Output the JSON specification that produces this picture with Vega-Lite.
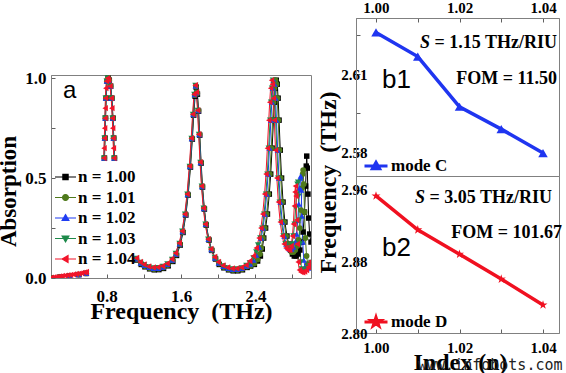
{
"$schema": "https://vega.github.io/schema/vega-lite/v6.json",
"background": "white",
"padding": {"left": -4, "top": 0, "right": 0, "bottom": 0},
"config": {
  "view": {"stroke": "#808080", "strokeWidth": 1},
  "axis": {"domainColor": "#808080", "tickColor": "#606060", "labelFont": "Liberation Serif", "labelFontWeight": "bold", "labelColor": "#000000", "titleFont": "Liberation Serif", "titleFontWeight": "bold", "titleColor": "#000000", "grid": false, "tickSize": -4, "labelFlush": false, "labelOverlap": false}
},
"title": {"text": "www.infobots.com", "orient": "bottom", "anchor": "end", "font": "DejaVu Sans Mono", "fontSize": 15, "fontWeight": "normal", "color": "#222222", "offset": -17},
"datasets": {
"modeC": [
{"mode": "mode C", "n": 1.00, "f": 2.6260},
{"mode": "mode C", "n": 1.01, "f": 2.6167},
{"mode": "mode C", "n": 1.02, "f": 2.5974},
{"mode": "mode C", "n": 1.03, "f": 2.5888},
{"mode": "mode C", "n": 1.04, "f": 2.5796}
],
"modeD": [
{"mode": "mode D", "n": 1.00, "f": 2.9533},
{"mode": "mode D", "n": 1.01, "f": 2.9154},
{"mode": "mode D", "n": 1.02, "f": 2.8882},
{"mode": "mode D", "n": 1.03, "f": 2.8603},
{"mode": "mode D", "n": 1.04, "f": 2.8313}
],
"spectra": [
{"n":"1.00","s":"A","f":0.2,"a":0.001},{"n":"1.00","s":"A","f":0.3,"a":0.006},{"n":"1.00","s":"A","f":0.4,"a":0.011},{"n":"1.00","s":"A","f":0.5,"a":0.017},{"n":"1.00","s":"A","f":0.58,"a":0.023},
{"n":"1.00","s":"B","f":0.776,"a":0.6},{"n":"1.00","s":"B","f":0.782,"a":0.7},{"n":"1.00","s":"B","f":0.788,"a":0.8},{"n":"1.00","s":"B","f":0.794,"a":0.9},{"n":"1.00","s":"B","f":0.805,"a":0.985},{"n":"1.00","s":"B","f":0.816,"a":1.0},{"n":"1.00","s":"B","f":0.828,"a":0.99},{"n":"1.00","s":"B","f":0.843,"a":0.96},{"n":"1.00","s":"B","f":0.856,"a":0.9},{"n":"1.00","s":"B","f":0.868,"a":0.8},{"n":"1.00","s":"B","f":0.876,"a":0.7},{"n":"1.00","s":"B","f":0.884,"a":0.6},
{"n":"1.00","s":"C","f":1.12,"a":0.09},{"n":"1.00","s":"C","f":1.172,"a":0.068},{"n":"1.00","s":"C","f":1.212,"a":0.056},{"n":"1.00","s":"C","f":1.262,"a":0.046},{"n":"1.00","s":"C","f":1.312,"a":0.041},{"n":"1.00","s":"C","f":1.362,"a":0.042},{"n":"1.00","s":"C","f":1.412,"a":0.048},{"n":"1.00","s":"C","f":1.462,"a":0.061},{"n":"1.00","s":"C","f":1.512,"a":0.083},{"n":"1.00","s":"C","f":1.552,"a":0.113},{"n":"1.00","s":"C","f":1.592,"a":0.165},{"n":"1.00","s":"C","f":1.622,"a":0.228},{"n":"1.00","s":"C","f":1.652,"a":0.315},{"n":"1.00","s":"C","f":1.677,"a":0.415},{"n":"1.00","s":"C","f":1.702,"a":0.555},{"n":"1.00","s":"C","f":1.722,"a":0.695},{"n":"1.00","s":"C","f":1.737,"a":0.815},{"n":"1.00","s":"C","f":1.752,"a":0.91},{"n":"1.00","s":"C","f":1.764,"a":0.955},{"n":"1.00","s":"C","f":1.777,"a":0.92},{"n":"1.00","s":"C","f":1.79,"a":0.835},{"n":"1.00","s":"C","f":1.802,"a":0.715},{"n":"1.00","s":"C","f":1.817,"a":0.575},{"n":"1.00","s":"C","f":1.832,"a":0.455},{"n":"1.00","s":"C","f":1.852,"a":0.345},{"n":"1.00","s":"C","f":1.872,"a":0.265},{"n":"1.00","s":"C","f":1.902,"a":0.19},{"n":"1.00","s":"C","f":1.932,"a":0.138},{"n":"1.00","s":"C","f":1.972,"a":0.095},{"n":"1.00","s":"C","f":2.012,"a":0.068},{"n":"1.00","s":"C","f":2.062,"a":0.051},{"n":"1.00","s":"C","f":2.112,"a":0.041},{"n":"1.00","s":"C","f":2.162,"a":0.036},{"n":"1.00","s":"C","f":2.212,"a":0.036},{"n":"1.00","s":"C","f":2.262,"a":0.041},{"n":"1.00","s":"C","f":2.312,"a":0.053},
{"n":"1.00","s":"C","f":2.35,"a":0.06},{"n":"1.00","s":"C","f":2.39,"a":0.068},{"n":"1.00","s":"C","f":2.425,"a":0.085},{"n":"1.00","s":"C","f":2.455,"a":0.11},{"n":"1.00","s":"C","f":2.475,"a":0.145},{"n":"1.00","s":"C","f":2.491,"a":0.2},{"n":"1.00","s":"C","f":2.511,"a":0.25},{"n":"1.00","s":"C","f":2.531,"a":0.32},{"n":"1.00","s":"C","f":2.551,"a":0.42},{"n":"1.00","s":"C","f":2.566,"a":0.52},{"n":"1.00","s":"C","f":2.581,"a":0.65},{"n":"1.00","s":"C","f":2.596,"a":0.79},{"n":"1.00","s":"C","f":2.606,"a":0.88},{"n":"1.00","s":"C","f":2.616,"a":0.95},{"n":"1.00","s":"C","f":2.626,"a":0.99},{"n":"1.00","s":"C","f":2.636,"a":0.97},{"n":"1.00","s":"C","f":2.646,"a":0.9},{"n":"1.00","s":"C","f":2.656,"a":0.79},{"n":"1.00","s":"C","f":2.669,"a":0.64},{"n":"1.00","s":"C","f":2.683,"a":0.5},{"n":"1.00","s":"C","f":2.699,"a":0.38},{"n":"1.00","s":"C","f":2.719,"a":0.28},{"n":"1.00","s":"C","f":2.741,"a":0.21},{"n":"1.00","s":"C","f":2.761,"a":0.17},{"n":"1.00","s":"C","f":2.78,"a":0.14},{"n":"1.00","s":"C","f":2.8,"a":0.12},{"n":"1.00","s":"C","f":2.82,"a":0.11},{"n":"1.00","s":"C","f":2.84,"a":0.11},{"n":"1.00","s":"C","f":2.86,"a":0.12},{"n":"1.00","s":"C","f":2.88,"a":0.14},{"n":"1.00","s":"C","f":2.9,"a":0.18},{"n":"1.00","s":"C","f":2.915,"a":0.23},{"n":"1.00","s":"C","f":2.93,"a":0.33},{"n":"1.00","s":"C","f":2.942,"a":0.46},{"n":"1.00","s":"C","f":2.949,"a":0.56},{"n":"1.00","s":"C","f":2.954,"a":0.61},{"n":"1.00","s":"C","f":2.96,"a":0.55},{"n":"1.00","s":"C","f":2.967,"a":0.42},{"n":"1.00","s":"C","f":2.975,"a":0.3},{"n":"1.00","s":"C","f":2.985,"a":0.22},{"n":"1.00","s":"C","f":3.0,"a":0.18},

{"n":"1.01","s":"A","f":0.2,"a":0.001},{"n":"1.01","s":"A","f":0.3,"a":0.006},{"n":"1.01","s":"A","f":0.4,"a":0.011},{"n":"1.01","s":"A","f":0.5,"a":0.017},{"n":"1.01","s":"A","f":0.58,"a":0.023},
{"n":"1.01","s":"B","f":0.774,"a":0.6},{"n":"1.01","s":"B","f":0.78,"a":0.7},{"n":"1.01","s":"B","f":0.786,"a":0.8},{"n":"1.01","s":"B","f":0.792,"a":0.9},{"n":"1.01","s":"B","f":0.803,"a":0.985},{"n":"1.01","s":"B","f":0.814,"a":1.0},{"n":"1.01","s":"B","f":0.826,"a":0.99},{"n":"1.01","s":"B","f":0.841,"a":0.96},{"n":"1.01","s":"B","f":0.854,"a":0.9},{"n":"1.01","s":"B","f":0.866,"a":0.8},{"n":"1.01","s":"B","f":0.874,"a":0.7},{"n":"1.01","s":"B","f":0.882,"a":0.6},
{"n":"1.01","s":"C","f":1.12,"a":0.093},{"n":"1.01","s":"C","f":1.169,"a":0.072},{"n":"1.01","s":"C","f":1.209,"a":0.06},{"n":"1.01","s":"C","f":1.259,"a":0.05},{"n":"1.01","s":"C","f":1.309,"a":0.045},{"n":"1.01","s":"C","f":1.359,"a":0.046},{"n":"1.01","s":"C","f":1.409,"a":0.052},{"n":"1.01","s":"C","f":1.459,"a":0.065},{"n":"1.01","s":"C","f":1.509,"a":0.087},{"n":"1.01","s":"C","f":1.549,"a":0.117},{"n":"1.01","s":"C","f":1.589,"a":0.168},{"n":"1.01","s":"C","f":1.619,"a":0.23},{"n":"1.01","s":"C","f":1.649,"a":0.317},{"n":"1.01","s":"C","f":1.674,"a":0.417},{"n":"1.01","s":"C","f":1.699,"a":0.557},{"n":"1.01","s":"C","f":1.719,"a":0.697},{"n":"1.01","s":"C","f":1.734,"a":0.817},{"n":"1.01","s":"C","f":1.749,"a":0.915},{"n":"1.01","s":"C","f":1.761,"a":0.958},{"n":"1.01","s":"C","f":1.774,"a":0.925},{"n":"1.01","s":"C","f":1.787,"a":0.837},{"n":"1.01","s":"C","f":1.799,"a":0.717},{"n":"1.01","s":"C","f":1.814,"a":0.577},{"n":"1.01","s":"C","f":1.829,"a":0.457},{"n":"1.01","s":"C","f":1.849,"a":0.347},{"n":"1.01","s":"C","f":1.869,"a":0.267},{"n":"1.01","s":"C","f":1.899,"a":0.192},{"n":"1.01","s":"C","f":1.929,"a":0.14},{"n":"1.01","s":"C","f":1.969,"a":0.098},{"n":"1.01","s":"C","f":2.009,"a":0.072},{"n":"1.01","s":"C","f":2.059,"a":0.055},{"n":"1.01","s":"C","f":2.109,"a":0.045},{"n":"1.01","s":"C","f":2.159,"a":0.04},{"n":"1.01","s":"C","f":2.209,"a":0.04},{"n":"1.01","s":"C","f":2.259,"a":0.045},{"n":"1.01","s":"C","f":2.309,"a":0.057},
{"n":"1.01","s":"C","f":2.35,"a":0.062},{"n":"1.01","s":"C","f":2.39,"a":0.072},{"n":"1.01","s":"C","f":2.425,"a":0.092},{"n":"1.01","s":"C","f":2.45,"a":0.12},{"n":"1.01","s":"C","f":2.465,"a":0.15},{"n":"1.01","s":"C","f":2.482,"a":0.2},{"n":"1.01","s":"C","f":2.502,"a":0.25},{"n":"1.01","s":"C","f":2.522,"a":0.32},{"n":"1.01","s":"C","f":2.542,"a":0.42},{"n":"1.01","s":"C","f":2.557,"a":0.52},{"n":"1.01","s":"C","f":2.572,"a":0.65},{"n":"1.01","s":"C","f":2.587,"a":0.79},{"n":"1.01","s":"C","f":2.597,"a":0.88},{"n":"1.01","s":"C","f":2.607,"a":0.95},{"n":"1.01","s":"C","f":2.617,"a":0.99},{"n":"1.01","s":"C","f":2.627,"a":0.97},{"n":"1.01","s":"C","f":2.637,"a":0.9},{"n":"1.01","s":"C","f":2.647,"a":0.79},{"n":"1.01","s":"C","f":2.66,"a":0.64},{"n":"1.01","s":"C","f":2.674,"a":0.5},{"n":"1.01","s":"C","f":2.69,"a":0.38},{"n":"1.01","s":"C","f":2.71,"a":0.28},{"n":"1.01","s":"C","f":2.732,"a":0.21},{"n":"1.01","s":"C","f":2.752,"a":0.17},{"n":"1.01","s":"C","f":2.77,"a":0.15},{"n":"1.01","s":"C","f":2.79,"a":0.13},{"n":"1.01","s":"C","f":2.81,"a":0.13},{"n":"1.01","s":"C","f":2.83,"a":0.14},{"n":"1.01","s":"C","f":2.85,"a":0.16},{"n":"1.01","s":"C","f":2.865,"a":0.19},{"n":"1.01","s":"C","f":2.88,"a":0.25},{"n":"1.01","s":"C","f":2.893,"a":0.34},{"n":"1.01","s":"C","f":2.903,"a":0.45},{"n":"1.01","s":"C","f":2.91,"a":0.52},{"n":"1.01","s":"C","f":2.916,"a":0.54},{"n":"1.01","s":"C","f":2.922,"a":0.47},{"n":"1.01","s":"C","f":2.93,"a":0.33},{"n":"1.01","s":"C","f":2.94,"a":0.2},{"n":"1.01","s":"C","f":2.952,"a":0.11},{"n":"1.01","s":"C","f":2.965,"a":0.07},{"n":"1.01","s":"C","f":2.98,"a":0.055},{"n":"1.01","s":"C","f":3.0,"a":0.06},

{"n":"1.02","s":"A","f":0.2,"a":0.001},{"n":"1.02","s":"A","f":0.3,"a":0.006},{"n":"1.02","s":"A","f":0.4,"a":0.011},{"n":"1.02","s":"A","f":0.5,"a":0.017},{"n":"1.02","s":"A","f":0.58,"a":0.023},
{"n":"1.02","s":"B","f":0.772,"a":0.6},{"n":"1.02","s":"B","f":0.778,"a":0.7},{"n":"1.02","s":"B","f":0.784,"a":0.8},{"n":"1.02","s":"B","f":0.79,"a":0.9},{"n":"1.02","s":"B","f":0.801,"a":0.985},{"n":"1.02","s":"B","f":0.812,"a":1.0},{"n":"1.02","s":"B","f":0.824,"a":0.99},{"n":"1.02","s":"B","f":0.839,"a":0.96},{"n":"1.02","s":"B","f":0.852,"a":0.9},{"n":"1.02","s":"B","f":0.864,"a":0.8},{"n":"1.02","s":"B","f":0.872,"a":0.7},{"n":"1.02","s":"B","f":0.88,"a":0.6},
{"n":"1.02","s":"C","f":1.12,"a":0.096},{"n":"1.02","s":"C","f":1.166,"a":0.075},{"n":"1.02","s":"C","f":1.206,"a":0.063},{"n":"1.02","s":"C","f":1.256,"a":0.053},{"n":"1.02","s":"C","f":1.306,"a":0.048},{"n":"1.02","s":"C","f":1.356,"a":0.049},{"n":"1.02","s":"C","f":1.406,"a":0.055},{"n":"1.02","s":"C","f":1.456,"a":0.068},{"n":"1.02","s":"C","f":1.506,"a":0.09},{"n":"1.02","s":"C","f":1.546,"a":0.12},{"n":"1.02","s":"C","f":1.586,"a":0.171},{"n":"1.02","s":"C","f":1.616,"a":0.232},{"n":"1.02","s":"C","f":1.646,"a":0.318},{"n":"1.02","s":"C","f":1.671,"a":0.418},{"n":"1.02","s":"C","f":1.696,"a":0.558},{"n":"1.02","s":"C","f":1.716,"a":0.698},{"n":"1.02","s":"C","f":1.731,"a":0.818},{"n":"1.02","s":"C","f":1.746,"a":0.918},{"n":"1.02","s":"C","f":1.758,"a":0.962},{"n":"1.02","s":"C","f":1.771,"a":0.928},{"n":"1.02","s":"C","f":1.784,"a":0.838},{"n":"1.02","s":"C","f":1.796,"a":0.718},{"n":"1.02","s":"C","f":1.811,"a":0.578},{"n":"1.02","s":"C","f":1.826,"a":0.458},{"n":"1.02","s":"C","f":1.846,"a":0.348},{"n":"1.02","s":"C","f":1.866,"a":0.268},{"n":"1.02","s":"C","f":1.896,"a":0.193},{"n":"1.02","s":"C","f":1.926,"a":0.142},{"n":"1.02","s":"C","f":1.966,"a":0.1},{"n":"1.02","s":"C","f":2.006,"a":0.075},{"n":"1.02","s":"C","f":2.056,"a":0.058},{"n":"1.02","s":"C","f":2.106,"a":0.048},{"n":"1.02","s":"C","f":2.156,"a":0.043},{"n":"1.02","s":"C","f":2.206,"a":0.043},{"n":"1.02","s":"C","f":2.256,"a":0.048},{"n":"1.02","s":"C","f":2.306,"a":0.06},
{"n":"1.02","s":"C","f":2.345,"a":0.07},{"n":"1.02","s":"C","f":2.38,"a":0.09},{"n":"1.02","s":"C","f":2.41,"a":0.115},{"n":"1.02","s":"C","f":2.44,"a":0.155},{"n":"1.02","s":"C","f":2.463,"a":0.2},{"n":"1.02","s":"C","f":2.483,"a":0.25},{"n":"1.02","s":"C","f":2.503,"a":0.32},{"n":"1.02","s":"C","f":2.523,"a":0.42},{"n":"1.02","s":"C","f":2.538,"a":0.52},{"n":"1.02","s":"C","f":2.553,"a":0.65},{"n":"1.02","s":"C","f":2.568,"a":0.79},{"n":"1.02","s":"C","f":2.578,"a":0.88},{"n":"1.02","s":"C","f":2.588,"a":0.95},{"n":"1.02","s":"C","f":2.598,"a":0.99},{"n":"1.02","s":"C","f":2.608,"a":0.97},{"n":"1.02","s":"C","f":2.618,"a":0.9},{"n":"1.02","s":"C","f":2.628,"a":0.79},{"n":"1.02","s":"C","f":2.641,"a":0.64},{"n":"1.02","s":"C","f":2.655,"a":0.5},{"n":"1.02","s":"C","f":2.671,"a":0.38},{"n":"1.02","s":"C","f":2.691,"a":0.28},{"n":"1.02","s":"C","f":2.713,"a":0.21},{"n":"1.02","s":"C","f":2.733,"a":0.17},{"n":"1.02","s":"C","f":2.75,"a":0.155},{"n":"1.02","s":"C","f":2.77,"a":0.145},{"n":"1.02","s":"C","f":2.79,"a":0.145},{"n":"1.02","s":"C","f":2.81,"a":0.155},{"n":"1.02","s":"C","f":2.83,"a":0.18},{"n":"1.02","s":"C","f":2.845,"a":0.22},{"n":"1.02","s":"C","f":2.858,"a":0.29},{"n":"1.02","s":"C","f":2.868,"a":0.37},{"n":"1.02","s":"C","f":2.877,"a":0.45},{"n":"1.02","s":"C","f":2.884,"a":0.5},{"n":"1.02","s":"C","f":2.889,"a":0.51},{"n":"1.02","s":"C","f":2.895,"a":0.44},{"n":"1.02","s":"C","f":2.902,"a":0.31},{"n":"1.02","s":"C","f":2.911,"a":0.18},{"n":"1.02","s":"C","f":2.922,"a":0.09},{"n":"1.02","s":"C","f":2.935,"a":0.055},{"n":"1.02","s":"C","f":2.95,"a":0.045},{"n":"1.02","s":"C","f":2.97,"a":0.05},{"n":"1.02","s":"C","f":2.985,"a":0.058},{"n":"1.02","s":"C","f":3.0,"a":0.068},

{"n":"1.03","s":"A","f":0.2,"a":0.001},{"n":"1.03","s":"A","f":0.3,"a":0.006},{"n":"1.03","s":"A","f":0.4,"a":0.011},{"n":"1.03","s":"A","f":0.5,"a":0.017},{"n":"1.03","s":"A","f":0.58,"a":0.023},
{"n":"1.03","s":"B","f":0.77,"a":0.6},{"n":"1.03","s":"B","f":0.776,"a":0.7},{"n":"1.03","s":"B","f":0.782,"a":0.8},{"n":"1.03","s":"B","f":0.788,"a":0.9},{"n":"1.03","s":"B","f":0.799,"a":0.985},{"n":"1.03","s":"B","f":0.81,"a":1.0},{"n":"1.03","s":"B","f":0.822,"a":0.99},{"n":"1.03","s":"B","f":0.837,"a":0.96},{"n":"1.03","s":"B","f":0.85,"a":0.9},{"n":"1.03","s":"B","f":0.862,"a":0.8},{"n":"1.03","s":"B","f":0.87,"a":0.7},{"n":"1.03","s":"B","f":0.878,"a":0.6},
{"n":"1.03","s":"C","f":1.12,"a":0.098},{"n":"1.03","s":"C","f":1.163,"a":0.078},{"n":"1.03","s":"C","f":1.203,"a":0.066},{"n":"1.03","s":"C","f":1.253,"a":0.056},{"n":"1.03","s":"C","f":1.303,"a":0.051},{"n":"1.03","s":"C","f":1.353,"a":0.052},{"n":"1.03","s":"C","f":1.403,"a":0.058},{"n":"1.03","s":"C","f":1.453,"a":0.071},{"n":"1.03","s":"C","f":1.503,"a":0.093},{"n":"1.03","s":"C","f":1.543,"a":0.123},{"n":"1.03","s":"C","f":1.583,"a":0.173},{"n":"1.03","s":"C","f":1.613,"a":0.234},{"n":"1.03","s":"C","f":1.643,"a":0.319},{"n":"1.03","s":"C","f":1.668,"a":0.419},{"n":"1.03","s":"C","f":1.693,"a":0.559},{"n":"1.03","s":"C","f":1.713,"a":0.699},{"n":"1.03","s":"C","f":1.728,"a":0.819},{"n":"1.03","s":"C","f":1.743,"a":0.919},{"n":"1.03","s":"C","f":1.755,"a":0.964},{"n":"1.03","s":"C","f":1.768,"a":0.929},{"n":"1.03","s":"C","f":1.781,"a":0.839},{"n":"1.03","s":"C","f":1.793,"a":0.719},{"n":"1.03","s":"C","f":1.808,"a":0.579},{"n":"1.03","s":"C","f":1.823,"a":0.459},{"n":"1.03","s":"C","f":1.843,"a":0.349},{"n":"1.03","s":"C","f":1.863,"a":0.269},{"n":"1.03","s":"C","f":1.893,"a":0.194},{"n":"1.03","s":"C","f":1.923,"a":0.143},{"n":"1.03","s":"C","f":1.963,"a":0.103},{"n":"1.03","s":"C","f":2.003,"a":0.078},{"n":"1.03","s":"C","f":2.053,"a":0.061},{"n":"1.03","s":"C","f":2.103,"a":0.051},{"n":"1.03","s":"C","f":2.153,"a":0.046},{"n":"1.03","s":"C","f":2.203,"a":0.046},{"n":"1.03","s":"C","f":2.253,"a":0.051},{"n":"1.03","s":"C","f":2.303,"a":0.063},
{"n":"1.03","s":"C","f":2.34,"a":0.075},{"n":"1.03","s":"C","f":2.38,"a":0.1},{"n":"1.03","s":"C","f":2.41,"a":0.13},{"n":"1.03","s":"C","f":2.43,"a":0.165},{"n":"1.03","s":"C","f":2.454,"a":0.2},{"n":"1.03","s":"C","f":2.474,"a":0.25},{"n":"1.03","s":"C","f":2.494,"a":0.32},{"n":"1.03","s":"C","f":2.514,"a":0.42},{"n":"1.03","s":"C","f":2.529,"a":0.52},{"n":"1.03","s":"C","f":2.544,"a":0.65},{"n":"1.03","s":"C","f":2.559,"a":0.79},{"n":"1.03","s":"C","f":2.569,"a":0.88},{"n":"1.03","s":"C","f":2.579,"a":0.95},{"n":"1.03","s":"C","f":2.589,"a":0.99},{"n":"1.03","s":"C","f":2.599,"a":0.97},{"n":"1.03","s":"C","f":2.609,"a":0.9},{"n":"1.03","s":"C","f":2.619,"a":0.79},{"n":"1.03","s":"C","f":2.632,"a":0.64},{"n":"1.03","s":"C","f":2.646,"a":0.5},{"n":"1.03","s":"C","f":2.662,"a":0.38},{"n":"1.03","s":"C","f":2.682,"a":0.28},{"n":"1.03","s":"C","f":2.704,"a":0.21},{"n":"1.03","s":"C","f":2.724,"a":0.17},{"n":"1.03","s":"C","f":2.74,"a":0.155},{"n":"1.03","s":"C","f":2.76,"a":0.148},{"n":"1.03","s":"C","f":2.78,"a":0.152},{"n":"1.03","s":"C","f":2.795,"a":0.17},{"n":"1.03","s":"C","f":2.81,"a":0.21},{"n":"1.03","s":"C","f":2.823,"a":0.27},{"n":"1.03","s":"C","f":2.835,"a":0.35},{"n":"1.03","s":"C","f":2.845,"a":0.42},{"n":"1.03","s":"C","f":2.853,"a":0.47},{"n":"1.03","s":"C","f":2.86,"a":0.48},{"n":"1.03","s":"C","f":2.866,"a":0.41},{"n":"1.03","s":"C","f":2.873,"a":0.29},{"n":"1.03","s":"C","f":2.881,"a":0.17},{"n":"1.03","s":"C","f":2.89,"a":0.08},{"n":"1.03","s":"C","f":2.9,"a":0.045},{"n":"1.03","s":"C","f":2.915,"a":0.035},{"n":"1.03","s":"C","f":2.935,"a":0.035},{"n":"1.03","s":"C","f":2.955,"a":0.045},{"n":"1.03","s":"C","f":2.975,"a":0.06},{"n":"1.03","s":"C","f":3.0,"a":0.078},

{"n":"1.04","s":"A","f":0.2,"a":0.002},{"n":"1.04","s":"A","f":0.23,"a":0.004},{"n":"1.04","s":"A","f":0.26,"a":0.006},{"n":"1.04","s":"A","f":0.29,"a":0.008},{"n":"1.04","s":"A","f":0.32,"a":0.01},{"n":"1.04","s":"A","f":0.35,"a":0.012},{"n":"1.04","s":"A","f":0.38,"a":0.014},{"n":"1.04","s":"A","f":0.41,"a":0.016},{"n":"1.04","s":"A","f":0.44,"a":0.018},{"n":"1.04","s":"A","f":0.47,"a":0.02},{"n":"1.04","s":"A","f":0.5,"a":0.022},{"n":"1.04","s":"A","f":0.53,"a":0.025},{"n":"1.04","s":"A","f":0.56,"a":0.028},{"n":"1.04","s":"A","f":0.58,"a":0.03},
{"n":"1.04","s":"B","f":0.768,"a":0.6},{"n":"1.04","s":"B","f":0.771,"a":0.65},{"n":"1.04","s":"B","f":0.774,"a":0.7},{"n":"1.04","s":"B","f":0.777,"a":0.75},{"n":"1.04","s":"B","f":0.78,"a":0.8},{"n":"1.04","s":"B","f":0.783,"a":0.85},{"n":"1.04","s":"B","f":0.786,"a":0.9},{"n":"1.04","s":"B","f":0.79,"a":0.95},{"n":"1.04","s":"B","f":0.797,"a":0.985},{"n":"1.04","s":"B","f":0.808,"a":1.0},{"n":"1.04","s":"B","f":0.82,"a":0.99},{"n":"1.04","s":"B","f":0.835,"a":0.96},{"n":"1.04","s":"B","f":0.848,"a":0.9},{"n":"1.04","s":"B","f":0.855,"a":0.85},{"n":"1.04","s":"B","f":0.86,"a":0.8},{"n":"1.04","s":"B","f":0.864,"a":0.75},{"n":"1.04","s":"B","f":0.868,"a":0.7},{"n":"1.04","s":"B","f":0.872,"a":0.65},{"n":"1.04","s":"B","f":0.876,"a":0.6},
{"n":"1.04","s":"C","f":1.12,"a":0.1},{"n":"1.04","s":"C","f":1.16,"a":0.08},{"n":"1.04","s":"C","f":1.2,"a":0.068},{"n":"1.04","s":"C","f":1.25,"a":0.058},{"n":"1.04","s":"C","f":1.3,"a":0.053},{"n":"1.04","s":"C","f":1.35,"a":0.054},{"n":"1.04","s":"C","f":1.4,"a":0.06},{"n":"1.04","s":"C","f":1.45,"a":0.073},{"n":"1.04","s":"C","f":1.5,"a":0.095},{"n":"1.04","s":"C","f":1.54,"a":0.125},{"n":"1.04","s":"C","f":1.58,"a":0.175},{"n":"1.04","s":"C","f":1.61,"a":0.235},{"n":"1.04","s":"C","f":1.64,"a":0.32},{"n":"1.04","s":"C","f":1.665,"a":0.42},{"n":"1.04","s":"C","f":1.69,"a":0.56},{"n":"1.04","s":"C","f":1.71,"a":0.7},{"n":"1.04","s":"C","f":1.725,"a":0.82},{"n":"1.04","s":"C","f":1.74,"a":0.92},{"n":"1.04","s":"C","f":1.752,"a":0.965},{"n":"1.04","s":"C","f":1.765,"a":0.93},{"n":"1.04","s":"C","f":1.778,"a":0.84},{"n":"1.04","s":"C","f":1.79,"a":0.72},{"n":"1.04","s":"C","f":1.805,"a":0.58},{"n":"1.04","s":"C","f":1.82,"a":0.46},{"n":"1.04","s":"C","f":1.84,"a":0.35},{"n":"1.04","s":"C","f":1.86,"a":0.27},{"n":"1.04","s":"C","f":1.89,"a":0.195},{"n":"1.04","s":"C","f":1.92,"a":0.145},{"n":"1.04","s":"C","f":1.96,"a":0.105},{"n":"1.04","s":"C","f":2.0,"a":0.08},{"n":"1.04","s":"C","f":2.05,"a":0.063},{"n":"1.04","s":"C","f":2.1,"a":0.053},{"n":"1.04","s":"C","f":2.15,"a":0.048},{"n":"1.04","s":"C","f":2.2,"a":0.048},{"n":"1.04","s":"C","f":2.25,"a":0.053},{"n":"1.04","s":"C","f":2.3,"a":0.065},
{"n":"1.04","s":"C","f":2.34,"a":0.085},{"n":"1.04","s":"C","f":2.38,"a":0.11},{"n":"1.04","s":"C","f":2.41,"a":0.15},{"n":"1.04","s":"C","f":2.44,"a":0.2},{"n":"1.04","s":"C","f":2.46,"a":0.25},{"n":"1.04","s":"C","f":2.48,"a":0.32},{"n":"1.04","s":"C","f":2.5,"a":0.42},{"n":"1.04","s":"C","f":2.515,"a":0.52},{"n":"1.04","s":"C","f":2.53,"a":0.65},{"n":"1.04","s":"C","f":2.545,"a":0.79},{"n":"1.04","s":"C","f":2.555,"a":0.88},{"n":"1.04","s":"C","f":2.565,"a":0.95},{"n":"1.04","s":"C","f":2.575,"a":0.99},{"n":"1.04","s":"C","f":2.585,"a":0.97},{"n":"1.04","s":"C","f":2.595,"a":0.9},{"n":"1.04","s":"C","f":2.605,"a":0.79},{"n":"1.04","s":"C","f":2.618,"a":0.64},{"n":"1.04","s":"C","f":2.632,"a":0.5},{"n":"1.04","s":"C","f":2.648,"a":0.38},{"n":"1.04","s":"C","f":2.668,"a":0.28},{"n":"1.04","s":"C","f":2.69,"a":0.21},{"n":"1.04","s":"C","f":2.71,"a":0.17},{"n":"1.04","s":"C","f":2.73,"a":0.15},{"n":"1.04","s":"C","f":2.75,"a":0.14},{"n":"1.04","s":"C","f":2.77,"a":0.14},{"n":"1.04","s":"C","f":2.785,"a":0.16},{"n":"1.04","s":"C","f":2.8,"a":0.21},{"n":"1.04","s":"C","f":2.81,"a":0.27},{"n":"1.04","s":"C","f":2.82,"a":0.36},{"n":"1.04","s":"C","f":2.827,"a":0.43},{"n":"1.04","s":"C","f":2.832,"a":0.46},{"n":"1.04","s":"C","f":2.838,"a":0.41},{"n":"1.04","s":"C","f":2.845,"a":0.29},{"n":"1.04","s":"C","f":2.852,"a":0.17},{"n":"1.04","s":"C","f":2.861,"a":0.08},{"n":"1.04","s":"C","f":2.875,"a":0.04},{"n":"1.04","s":"C","f":2.89,"a":0.03},{"n":"1.04","s":"C","f":2.91,"a":0.028},{"n":"1.04","s":"C","f":2.93,"a":0.032},{"n":"1.04","s":"C","f":2.95,"a":0.04},{"n":"1.04","s":"C","f":2.97,"a":0.055},{"n":"1.04","s":"C","f":2.985,"a":0.07},{"n":"1.04","s":"C","f":3.0,"a":0.085}
]
},
"hconcat": [
{
  "vconcat": [
    {"width": 260, "height": 57, "data": {"values": []}, "mark": {"type": "point", "opacity": 0}, "view": {"stroke": null}},
    {
      "width": 260, "height": 203,
      "layer": [
        {
          "data": {"name": "spectra"},
          "encoding": {
            "x": {"field": "f", "type": "quantitative", "scale": {"domain": [0.2, 3.0], "nice": false, "zero": false},
              "axis": {"values": [0.4, 0.8, 1.2, 1.6, 2.0, 2.4, 2.8], "labelExpr": "indexof(['0.8','1.6','2.4'], format(datum.value,'.1f')) >= 0 ? format(datum.value,'.1f') : ''", "labelFontSize": 17, "labelPadding": 14, "title": "Frequency\u00a0 (THz)", "titleFontSize": 24, "titleBaseline": "alphabetic", "titleY": 40}},
            "y": {"field": "a", "type": "quantitative", "scale": {"domain": [0, 1.016], "nice": false, "zero": false},
              "axis": {"values": [0, 0.25, 0.5, 0.75, 1.0], "labelExpr": "indexof(['0.0','0.5','1.0'], format(datum.value,'.1f')) >= 0 ? format(datum.value,'.1f') : ''", "labelFontSize": 17, "labelPadding": 9, "title": "Absorption", "titleFontSize": 23, "titleBaseline": "alphabetic", "titleAngle": 270, "titleAlign": "center", "titleX": -36, "titleY": 116}},
            "color": {"field": "n", "type": "nominal",
              "scale": {"domain": ["1.00", "1.01", "1.02", "1.03", "1.04"], "range": ["#000000", "#4f7a1c", "#1f3df2", "#1d8a4a", "#f2142a"]},
              "legend": {"orient": "none", "legendX": 3, "legendY": 90.5, "title": null, "padding": 0, "rowPadding": 0.5, "labelFont": "Liberation Serif", "labelFontWeight": "bold", "labelFontSize": 17, "labelColor": "#000000", "labelOffset": 1, "symbolSize": 441, "labelExpr": "'n = ' + datum.label",
                "encode": {"symbols": {"update": {
                  "shape": {"signal": "datum.value == '1.00' ? 'M-1,0H1M-0.25,-0.25H0.25V0.25H-0.25Z' : datum.value == '1.01' ? 'M-1,0H1M-0.28,0A0.28,0.28 0 1,0 0.28,0A0.28,0.28 0 1,0 -0.28,0Z' : datum.value == '1.02' ? 'M-1,0H1M0,-0.32L0.32,0.24H-0.32Z' : datum.value == '1.03' ? 'M-1,0H1M0,0.32L0.32,-0.24H-0.32Z' : 'M-1,0H1M-0.32,0L0.24,-0.32V0.32Z'"},
                  "fill": {"signal": "datum.value == '1.00' ? '#000000' : datum.value == '1.01' ? '#4f7a1c' : datum.value == '1.02' ? '#1f3df2' : datum.value == '1.03' ? '#1d8a4a' : '#f2142a'"},
                  "stroke": {"signal": "datum.value == '1.00' ? '#000000' : datum.value == '1.01' ? '#4f7a1c' : datum.value == '1.02' ? '#1f3df2' : datum.value == '1.03' ? '#1d8a4a' : '#f2142a'"},
                  "strokeWidth": {"value": 1.2},
                  "size": {"value": 441},
                  "opacity": {"value": 1}
                }}}
              }
            }
          },
          "layer": [
            {"mark": {"type": "line", "strokeWidth": 1, "clip": true}, "encoding": {"detail": {"field": "s", "type": "nominal"}}},
            {"transform": [{"filter": "datum.n == '1.00'"}], "mark": {"type": "point", "shape": "square", "filled": true, "size": 30, "opacity": 1, "clip": true}},
            {"transform": [{"filter": "datum.n == '1.01'"}], "mark": {"type": "point", "shape": "circle", "filled": true, "size": 34, "opacity": 1, "clip": true}},
            {"transform": [{"filter": "datum.n == '1.02'"}], "mark": {"type": "point", "shape": "triangle-up", "filled": true, "size": 38, "opacity": 1, "clip": true}},
            {"transform": [{"filter": "datum.n == '1.03'"}], "mark": {"type": "point", "shape": "triangle-down", "filled": true, "size": 38, "opacity": 1, "clip": true}},
            {"transform": [{"filter": "datum.n == '1.04'"}], "mark": {"type": "point", "shape": "triangle-left", "filled": true, "size": 40, "opacity": 1, "clip": true}}
          ]
        },
        {"data": {"values": [{"t": "a"}]}, "mark": {"type": "text", "font": "Liberation Sans", "fontSize": 24, "align": "left", "baseline": "alphabetic", "color": "#000000"},
         "encoding": {"x": {"datum": 0.328, "type": "quantitative"}, "y": {"datum": 0.9, "type": "quantitative"}, "text": {"field": "t", "type": "nominal"}}}
      ]
    }
  ],
  "spacing": 0,
  "bounds": "flush",
  "resolve": {"scale": {"color": "independent"}, "legend": {"color": "independent"}}
},
{
  "vconcat": [
    {
      "width": 203, "height": 158,
      "layer": [
        {
          "data": {"name": "modeC"},
          "encoding": {
            "x": {"field": "n", "type": "quantitative", "scale": {"domain": [0.99521, 1.04383], "nice": false, "zero": false},
              "axis": {"orient": "top", "values": [1.0, 1.01, 1.02, 1.03, 1.04], "labelExpr": "indexof(['1.00','1.02','1.04'], format(datum.value,'.2f')) >= 0 ? format(datum.value,'.2f') : ''", "labelFontSize": 15, "labelPadding": 6.5, "title": null}},
            "y": {"field": "f", "type": "quantitative", "scale": {"domain": [2.57077, 2.63154], "nice": false, "zero": false},
              "axis": {"values": [2.58, 2.595, 2.61, 2.625], "labelExpr": "indexof(['2.58','2.61'], format(datum.value,'.2f')) >= 0 ? format(datum.value,'.2f') : ''", "labelFontSize": 15, "labelPadding": -7, "title": null}},
            "color": {"field": "mode", "type": "nominal", "scale": {"domain": ["mode C"], "range": ["#1f35f0"]},
              "legend": {"orient": "none", "legendX": 7, "legendY": 135, "title": null, "padding": 0, "labelFont": "Liberation Serif", "labelFontWeight": "bold", "labelFontSize": 17, "labelColor": "#000000", "labelOffset": 2, "symbolSize": 529,
                "encode": {"symbols": {"update": {"shape": {"value": "M-1,0H1M0,-0.32L0.32,0.24H-0.32Z"}, "fill": {"value": "#1f35f0"}, "stroke": {"value": "#1f35f0"}, "strokeWidth": {"value": 3}, "size": {"value": 529}, "opacity": {"value": 1}}}}}}
          },
          "layer": [
            {"mark": {"type": "line", "strokeWidth": 3.5}},
            {"mark": {"type": "point", "shape": "triangle-up", "filled": true, "size": 90, "opacity": 1}}
          ]
        },
        {"data": {"values": [{"t": "S"}]}, "mark": {"type": "text", "font": "Liberation Serif", "fontWeight": "bold", "fontStyle": "italic", "fontSize": 18, "align": "right", "baseline": "alphabetic", "dx": -127, "color": "#000000"},
         "encoding": {"x": {"datum": 1.04335, "type": "quantitative"}, "y": {"datum": 2.6201, "type": "quantitative"}, "text": {"field": "t", "type": "nominal"}}},
        {"data": {"values": [{"t": "= 1.15 THz/RIU"}]}, "mark": {"type": "text", "font": "Liberation Serif", "fontWeight": "bold", "fontSize": 18, "align": "right", "baseline": "alphabetic", "color": "#000000"},
         "encoding": {"x": {"datum": 1.04335, "type": "quantitative"}, "y": {"datum": 2.6201, "type": "quantitative"}, "text": {"field": "t", "type": "nominal"}}},
        {"data": {"values": [{"t": "FOM = 11.50"}]}, "mark": {"type": "text", "font": "Liberation Serif", "fontWeight": "bold", "fontSize": 18, "align": "right", "baseline": "alphabetic", "color": "#000000"},
         "encoding": {"x": {"datum": 1.04335, "type": "quantitative"}, "y": {"datum": 2.6063, "type": "quantitative"}, "text": {"field": "t", "type": "nominal"}}},
        {"data": {"values": [{"t": "b1"}]}, "mark": {"type": "text", "font": "Liberation Sans", "fontSize": 26, "align": "left", "baseline": "alphabetic", "color": "#000000"},
         "encoding": {"x": {"datum": 1.00144, "type": "quantitative"}, "y": {"datum": 2.6047, "type": "quantitative"}, "text": {"field": "t", "type": "nominal"}}}
      ]
    },
    {
      "width": 203, "height": 157,
      "layer": [
        {
          "data": {"name": "modeD"},
          "encoding": {
            "x": {"field": "n", "type": "quantitative", "scale": {"domain": [0.99521, 1.04383], "nice": false, "zero": false},
              "axis": {"values": [1.0, 1.01, 1.02, 1.03, 1.04], "labelExpr": "indexof(['1.00','1.02','1.04'], format(datum.value,'.2f')) >= 0 ? format(datum.value,'.2f') : ''", "labelFontSize": 15, "labelPadding": 11, "title": "Index (n)", "titleFontSize": 24, "titleBaseline": "alphabetic", "titleY": 36, "titleX": 104}},
            "y": {"field": "f", "type": "quantitative", "scale": {"domain": [2.8, 2.9756], "nice": false, "zero": false},
              "axis": {"values": [2.8, 2.84, 2.88, 2.92, 2.96], "labelExpr": "indexof(['2.80','2.88','2.96'], format(datum.value,'.2f')) >= 0 ? format(datum.value,'.2f') : ''", "labelFontSize": 15, "labelPadding": -7, "title": "Frequency\u00a0 (THz)", "titleFontSize": 24, "titleBaseline": "alphabetic", "titleAngle": 270, "titleAlign": "center", "titleX": -21, "titleY": 6}},
            "color": {"field": "mode", "type": "nominal", "scale": {"domain": ["mode D"], "range": ["#f01020"]},
              "legend": {"orient": "none", "legendX": 7, "legendY": 133, "title": null, "padding": 0, "labelFont": "Liberation Serif", "labelFontWeight": "bold", "labelFontSize": 17, "labelColor": "#000000", "labelOffset": 2, "symbolSize": 529,
                "encode": {"symbols": {"update": {"shape": {"value": "M-1,0H1M0,-0.42L0.094,-0.129L0.4,-0.13L0.152,0.049L0.247,0.34L0,0.16L-0.247,0.34L-0.152,0.049L-0.4,-0.13L-0.094,-0.129Z"}, "fill": {"value": "#f01020"}, "stroke": {"value": "#f01020"}, "strokeWidth": {"value": 3}, "size": {"value": 529}, "opacity": {"value": 1}}}}}}
          },
          "layer": [
            {"mark": {"type": "line", "strokeWidth": 3.5}},
            {"mark": {"type": "point", "shape": "M0,-1L0.223,-0.307L0.951,-0.309L0.361,0.117L0.588,0.809L0,0.38L-0.588,0.809L-0.361,0.117L-0.951,-0.309L-0.223,-0.307Z", "filled": true, "size": 90, "opacity": 1}}
          ]
        },
        {"data": {"values": [{"t": "S"}]}, "mark": {"type": "text", "font": "Liberation Serif", "fontWeight": "bold", "fontStyle": "italic", "fontSize": 18, "align": "right", "baseline": "alphabetic", "dx": -127, "color": "#000000"},
         "encoding": {"x": {"datum": 1.04216, "type": "quantitative"}, "y": {"datum": 2.9455, "type": "quantitative"}, "text": {"field": "t", "type": "nominal"}}},
        {"data": {"values": [{"t": "= 3.05 THz/RIU"}]}, "mark": {"type": "text", "font": "Liberation Serif", "fontWeight": "bold", "fontSize": 18, "align": "right", "baseline": "alphabetic", "color": "#000000"},
         "encoding": {"x": {"datum": 1.04216, "type": "quantitative"}, "y": {"datum": 2.9455, "type": "quantitative"}, "text": {"field": "t", "type": "nominal"}}},
        {"data": {"values": [{"t": "FOM = 101.67"}]}, "mark": {"type": "text", "font": "Liberation Serif", "fontWeight": "bold", "fontSize": 18, "align": "right", "baseline": "alphabetic", "color": "#000000"},
         "encoding": {"x": {"datum": 1.04455, "type": "quantitative"}, "y": {"datum": 2.9064, "type": "quantitative"}, "text": {"field": "t", "type": "nominal"}}},
        {"data": {"values": [{"t": "b2"}]}, "mark": {"type": "text", "font": "Liberation Sans", "fontSize": 26, "align": "left", "baseline": "alphabetic", "color": "#000000"},
         "encoding": {"x": {"datum": 1.00144, "type": "quantitative"}, "y": {"datum": 2.8863, "type": "quantitative"}, "text": {"field": "t", "type": "nominal"}}}
      ]
    }
  ],
  "spacing": 0,
  "bounds": "flush",
  "resolve": {"scale": {"color": "independent"}, "legend": {"color": "independent"}}
}
],
"spacing": 3,
"bounds": "full",
"resolve": {"scale": {"color": "independent"}, "legend": {"color": "independent"}}
}
